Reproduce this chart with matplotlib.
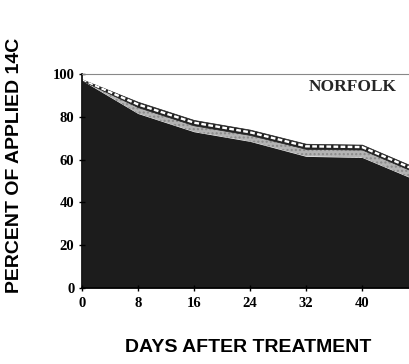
import matplotlib.pyplot as plt
import numpy as np

days = [0, 8, 16, 24, 32, 40, 48]
# stacked layers (percent of applied 14C)
bottom_layer = [97, 81.5, 73, 68.5, 61.5, 61, 50]
middle_layer = [0, 3, 3, 3, 3.5, 3.7, 3.5]
top_layer = [0.5, 2.5, 2.5, 2.5, 2.4, 2.3, 2.3]
xticks = [0, 8, 16, 24, 32, 40, 48]
yticks = [0, 20, 40, 60, 80, 100]

b = np.array(bottom_layer)
m = b + np.array(middle_layer)
t = m + np.array(top_layer)

fig = plt.figure(figsize=(4.10, 3.64), dpi=100)
ax = fig.add_axes([0.2, 0.2088, 0.8195, 0.588])

ax.fill_between(days, 0, b, color="#1c1c1c", lw=0)
ax.fill_between(days, b, m, facecolor="#b4b4b4", edgecolor="#8a8a8a", hatch="....", lw=0)
band = ax.fill_between(days, m, t, facecolor="#222222", edgecolor="#222222", lw=0.5)
dash, = ax.plot(days, (m + t) / 2, color="white", lw=1.7, dashes=(2.0, 1.0))
dash.set_clip_path(band.get_paths()[0], transform=ax.transData)

ax.set_xlim(0, 48)
ax.set_ylim(0, 100)
ax.set_xticks(xticks)
ax.set_yticks(yticks)
ax.set_xticklabels([str(v) for v in xticks], fontfamily="Liberation Serif", fontweight="bold", fontsize=10.5)
ax.set_yticklabels([str(v) for v in yticks], fontfamily="Liberation Serif", fontweight="bold", fontsize=10.5)
ax.tick_params(axis="x", direction="inout", length=5, width=1, pad=4)
ax.tick_params(axis="y", direction="inout", length=5, width=1, pad=3)

ax.spines["right"].set_visible(False)
ax.spines["top"].set_color("#888888")
ax.spines["left"].set_linewidth(1.2)
ax.spines["bottom"].set_linewidth(1.2)

ax.text(0.9375, 0.94, "NORFOLK", transform=ax.transAxes, ha="right", va="center",
        fontfamily="Liberation Serif", fontweight="bold", fontsize=12.5, color="#262626")

fig.text(248 / 410, 1 - 347 / 364, "DAYS AFTER TREATMENT", ha="center", va="center",
         fontfamily="Liberation Sans", fontweight="bold", fontsize=14)
fig.text(15 / 410, 1 - 165 / 364, "PERCENT OF APPLIED 14C", ha="center", va="center",
         rotation=90, fontfamily="Liberation Sans", fontweight="bold", fontsize=14)

fig.savefig("out.png", dpi=100)
